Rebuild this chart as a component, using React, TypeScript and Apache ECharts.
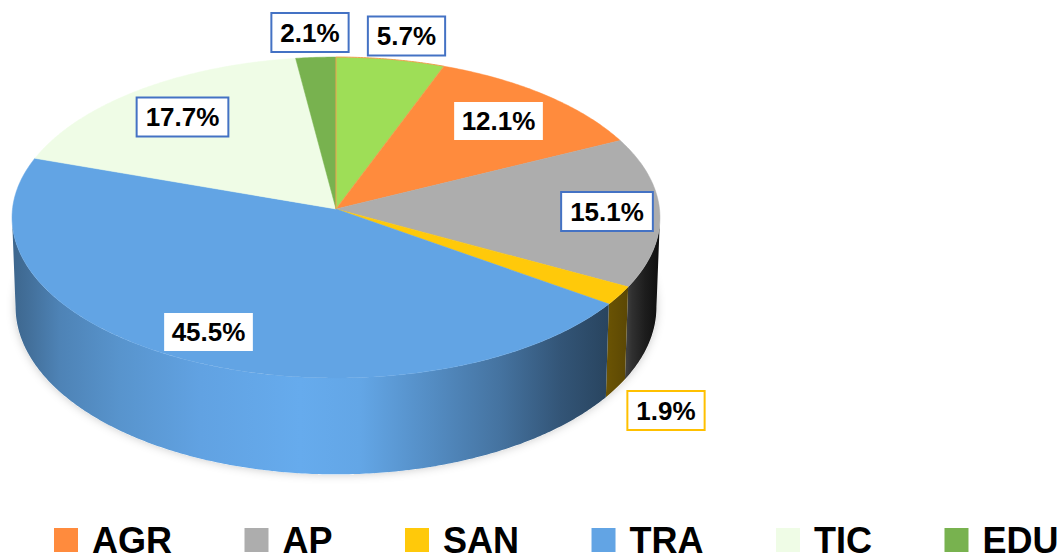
import React, { useEffect, useRef } from "react";
import * as echarts from "echarts";

const sliceNames = ["GEN", "AGR", "AP", "SAN", "TRA", "TIC", "EDU"];
const sliceValues = [5.7, 12.1, 15.1, 1.9, 45.5, 17.7, 2.1];
const sliceColors = ["#9EDE57", "#FF8B3D", "#ADADAD", "#FFC90A", "#62A4E4", "#EFFCE6", "#78B24F"];
const legendNames = ["AGR", "AP", "SAN", "TRA", "TIC", "EDU"];

// label box centres and frame colours, in page pixels
const labelCenters = [
  [406.5, 36], [498.5, 121], [607, 211.5], [666, 410.5], [208.5, 332], [182.5, 117], [310, 32.5],
];
const labelBorders = ["#4472C4", "", "#4472C4", "#FFC000", "", "#4472C4", "#4472C4"];

// projected pie geometry
const CX = 336;
const TOP = { cy: 209, rx: 323.5, ry: 160 };
const BASE = { cy: 298, rx: 320, ry: 167 };
const P = 0.053;
const WALL_FROM = (93 * Math.PI) / 180;
const WALL_TO = (267 * Math.PI) / 180;

// wall shading: [x pixel, brightness]
const wallShade = [
  [12, 0.62], [30, 0.68], [60, 0.8], [120, 0.9], [200, 0.99], [300, 1.04], [360, 1.01], [430, 0.86], [500, 0.7],
  [560, 0.52], [606, 0.42], [627, 0.36], [632, 0.28], [645, 0.17], [660, 0.08],
];

const total = sliceValues.reduce((a, b) => a + b, 0);

function project(g: typeof TOP, t: number): number[] {
  const u = Math.sin(t);
  const v = Math.cos(t);
  const w = 1 + P * v;
  return [CX + (g.rx * u) / w, g.cy - (g.ry * v) / w];
}

function arc(g: typeof TOP, a: number, b: number): number[][] {
  const n = Math.max(2, Math.ceil(Math.abs(b - a) / 0.01));
  const pts: number[][] = [];
  for (let i = 0; i <= n; i++) pts.push(project(g, a + ((b - a) * i) / n));
  return pts;
}

function shaded(hex: string, k: number): string {
  const n = parseInt(hex.slice(1), 16);
  const c = [(n >> 16) & 255, (n >> 8) & 255, n & 255].map((x) => Math.min(255, Math.round(x * k)));
  return `rgb(${c[0]},${c[1]},${c[2]})`;
}

function wallFill(hex: string) {
  return new echarts.graphic.LinearGradient(
    12, 0, 660, 0,
    wallShade.map(([x, k]) => ({ offset: (x - 12) / 648, color: shaded(hex, k) })),
    true,
  );
}

export default function App() {
  const ref = useRef<HTMLDivElement>(null);
  useEffect(() => {
    document.body.style.margin = "0";
    document.body.style.background = "#fff";
    const chart = echarts.init(ref.current!, undefined, { renderer: "svg" });
    let cum = 0;
    const series: any[] = [
      {
        type: "custom",
        name: "base",
        coordinateSystem: "none",
        silent: true,
        data: [[0]],
        renderItem: () => ({
          type: "polygon",
          z2: 0,
          shape: { points: arc(BASE, 0, Math.PI * 2) },
          style: { fill: "#fff", shadowBlur: 10, shadowColor: "rgba(0,0,0,0.22)" },
        }),
      },
    ];
    sliceValues.forEach((value, i) => {
      const start = cum;
      cum += value;
      const end = cum;
      series.push({
        type: "custom",
        name: sliceNames[i],
        coordinateSystem: "none",
        silent: true,
        itemStyle: { color: sliceColors[i] },
        data: [[start, end, value]],
        renderItem: (_: any, api: any) => {
          const a = (api.value(0) / total) * Math.PI * 2;
          const b = (api.value(1) / total) * Math.PI * 2;
          const color = sliceColors[i];
          const children: any[] = [];
          const wa = Math.max(a, WALL_FROM);
          const wb = Math.min(b, WALL_TO);
          if (wb > wa) {
            children.push({
              type: "polygon",
              z2: 1,
              shape: { points: [...arc(TOP, wa, wb), ...arc(BASE, wb, wa)] },
              style: { fill: wallFill(color) },
            });
          }
          children.push({
            type: "polygon",
            z2: i === 0 ? 3 : 2,
            shape: { points: [[CX, TOP.cy], ...arc(TOP, a, b)] },
            style: i === 0
              ? { fill: color, stroke: "#F0A050", lineWidth: 1 }
              : { fill: color, stroke: color, lineWidth: 0.5 },
          });
          const [lx, ly] = labelCenters[i];
          const border = labelBorders[i];
          children.push({
            type: "text",
            z2: 5,
            style: {
              text: `${api.value(2).toFixed(1)}%`,
              x: lx,
              y: ly,
              align: "center",
              verticalAlign: "middle",
              fontFamily: "Liberation Sans",
              fontWeight: "bold",
              fontSize: 26,
              fill: "#000",
              backgroundColor: "#fff",
              borderColor: border || "#fff",
              borderWidth: border ? 2 : 0,
              padding: border ? [6, 8, 5, 8] : [6, 7.5, 6, 7.5],
            },
          });
          return { type: "group", children };
        },
      });
    });
    chart.setOption({
      animation: false,
      backgroundColor: "#fff",
      legend: {
        data: legendNames,
        left: 54,
        top: 522,
        icon: "rect",
        itemWidth: 24,
        itemHeight: 24,
        itemGap: 72.5,
        selectedMode: false,
        padding: 0,
        textStyle: {
          fontFamily: "Liberation Sans",
          fontWeight: "bold",
          fontSize: 36,
          lineHeight: 30,
          color: "#000",
          padding: [0, 0, 0, 9],
        },
      },
      series,
    });
    return () => chart.dispose();
  }, []);
  return <div ref={ref} style={{ position: "absolute", left: 0, top: 0, width: 1061, height: 556 }} />;
}
